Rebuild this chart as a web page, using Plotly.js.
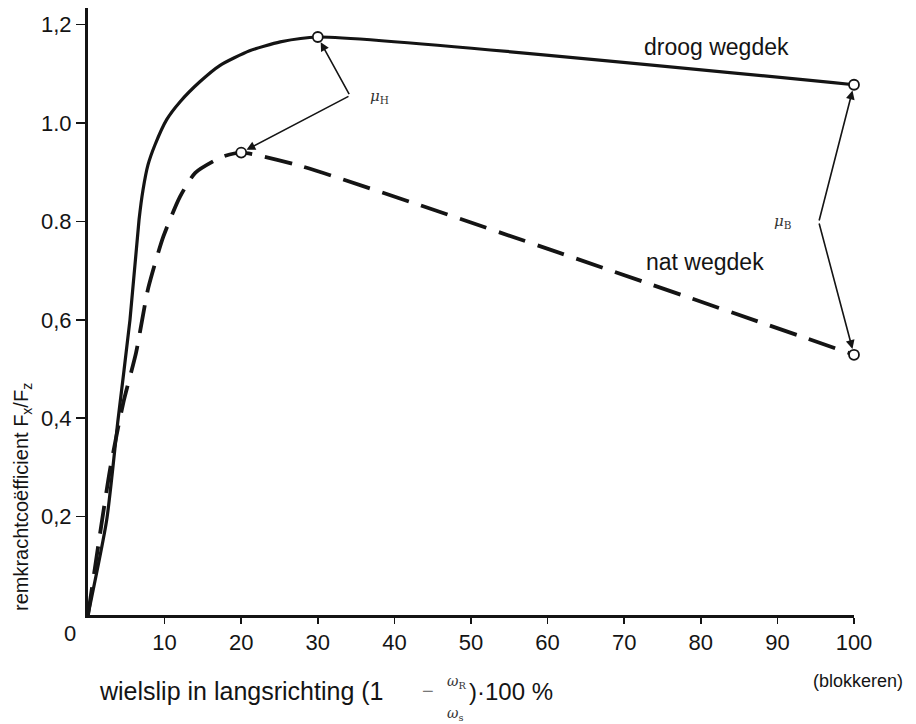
<!DOCTYPE html>
<html>
<head>
<meta charset="utf-8">
<script src="https://cdn.plot.ly/plotly-3.0.1.min.js"></script>
<style>
  html, body { margin: 0; padding: 0; background: #fff; }
  #chart { width: 916px; height: 724px; }
</style>
</head>
<body>
<div id="chart"></div>
<script>
// Wheel slip (%) against braking force coefficient, dry and wet road
const slipDry = [0, 2.44, 3.92, 5.48, 6.66, 7.18, 7.83, 8.75, 10.27, 12.0, 14.6, 17.2, 21.1, 25.1, 30, 100];
const muDry   = [0, 0.193, 0.397, 0.60, 0.803, 0.864, 0.915, 0.956, 1.007, 1.043, 1.084, 1.117, 1.147, 1.165, 1.175, 1.078];
const ringDry = [0, 0, 0, 0, 0, 0, 0, 0, 0, 0, 0, 0, 0, 0, 1, 1];

const slipWet = [0, 2.87, 4.6, 6.27, 7.87, 9.83, 12.0, 14.0, 17.45, 20.0, 27.7, 100];
const muWet   = [0, 0.295, 0.431, 0.533, 0.665, 0.769, 0.85, 0.899, 0.931, 0.94, 0.913, 0.529];
const ringWet = [0, 0, 0, 0, 0, 0, 0, 0, 0, 1, 0, 1];

const xTickVals = [10, 20, 30, 40, 50, 60, 70, 80, 90, 100];
const xTickText = ['10', '20', '30', '40', '50', '60', '70', '80', '90', '100'];
const yTickVals = [0.2, 0.4, 0.6, 0.8, 1.0, 1.2];
const yTickText = ['0,2', '0,4', '0,6', '0.8', '1.0', '1,2'];

const curveLabels = ['droog wegdek', 'nat wegdek'];

const INK = '#141414';
const FONT = 'Liberation Sans, Arial, Helvetica, sans-serif';
const GREEK = 'DejaVu Serif, serif';

function ringSizes(flags) { return flags.map(f => f ? 10 : 0); }

const traces = [
  {
    x: slipDry, y: muDry, type: 'scatter', mode: 'lines+markers', cliponaxis: false,
    line: { color: INK, width: 3.2, shape: 'spline', smoothing: 0.6 },
    marker: { size: ringSizes(ringDry), color: '#ffffff', opacity: 1, line: { color: INK, width: 1.8 } },
    hoverinfo: 'skip', showlegend: false
  },
  {
    x: slipWet, y: muWet, type: 'scatter', mode: 'lines+markers', cliponaxis: false,
    line: { color: INK, width: 3.8, dash: '28px,13px', shape: 'spline', smoothing: 0.6 },
    marker: { size: ringSizes(ringWet), color: '#ffffff', opacity: 1, line: { color: INK, width: 1.8 } },
    hoverinfo: 'skip', showlegend: false
  }
];

// arrows from a shared vertex towards the marked points
function arrow(tx, ty, vx, vy) {
  return {
    x: tx, y: ty, xref: 'x', yref: 'y',
    ax: vx, ay: vy, axref: 'x', ayref: 'y',
    text: '', showarrow: true, arrowhead: 2, arrowsize: 1.1,
    arrowwidth: 1.6, arrowcolor: INK, standoff: 6
  };
}

// labels placed by pixel position (converted to paper coordinates below)
function pxLabel(px, py, text, size, opts) {
  return Object.assign({
    px: px, py: py, text: text, showarrow: false,
    xanchor: 'center', yanchor: 'middle',
    font: { family: FONT, size: size, color: INK }
  }, opts || {});
}

const annotations = [
  arrow(slipDry[14], muDry[14], 34.2, 1.056),
  arrow(slipWet[9], muWet[9], 34.2, 1.056),
  arrow(slipDry[15], muDry[15], 95.4, 0.799),
  arrow(slipWet[11], muWet[11], 95.4, 0.799),
  { x: 36.6, y: 1.054, xref: 'x', yref: 'y', xanchor: 'left', yanchor: 'middle',
    text: '<i>μ</i><sub>H</sub>', showarrow: false,
    font: { family: GREEK, size: 15, color: '#333' } },
  { x: 92.2, y: 0.80, xref: 'x', yref: 'y', xanchor: 'right', yanchor: 'middle',
    text: '<i>μ</i><sub>B</sub>', showarrow: false,
    font: { family: GREEK, size: 15, color: '#333' } },
  { x: 82.0, y: 1.155, xref: 'x', yref: 'y', xanchor: 'center', yanchor: 'middle',
    text: curveLabels[0], showarrow: false, font: { family: FONT, size: 23, color: INK } },
  { x: 80.5, y: 0.718, xref: 'x', yref: 'y', xanchor: 'center', yanchor: 'middle',
    text: curveLabels[1], showarrow: false, font: { family: FONT, size: 23, color: INK } },
  pxLabel(70, 633, '0', 22),
  pxLabel(22, 497, 'remkrachtcoëfficient F<sub>x</sub>/F<sub>z</sub>', 20, { textangle: -90 }),
  pxLabel(97, 691, 'wielslip in langsrichting (1', 25, { xanchor: 'left' }),
  pxLabel(428, 691, '−', 20, { font: { family: FONT, size: 20, color: '#777' } }),
  pxLabel(456, 682, '<i>ω</i><sub>R</sub>', 14, { font: { family: GREEK, size: 14, color: '#333' } }),
  pxLabel(455, 714, '<i>ω</i><sub>s</sub>', 14, { font: { family: GREEK, size: 14, color: '#333' } }),
  pxLabel(467, 691, ')·100 %', 24, { xanchor: 'left' }),
  pxLabel(858, 681, '(blokkeren)', 18)
];

const W = 916, H = 724;
const M = { l: 88, r: 62, t: 8, b: 109 };
const pw = W - M.l - M.r, ph = H - M.t - M.b;
annotations.forEach(a => {
  if (a.px !== undefined) {
    a.xref = 'paper'; a.yref = 'paper';
    a.x = (a.px - M.l) / pw;
    a.y = (H - M.b - a.py) / ph;
    delete a.px; delete a.py;
  }
});

const layout = {
  width: W, height: H,
  margin: M,
  paper_bgcolor: '#fff', plot_bgcolor: '#fff',
  showlegend: false,
  xaxis: {
    range: [0, 100], showgrid: false, zeroline: false,
    showline: true, linecolor: INK, linewidth: 3,
    ticks: 'outside', ticklen: 6, tickwidth: 1.5, tickcolor: INK,
    tickvals: xTickVals, ticktext: xTickText,
    tickfont: { family: FONT, size: 22, color: INK }
  },
  yaxis: {
    range: [0, 1.234], showgrid: false, zeroline: false,
    showline: true, linecolor: INK, linewidth: 3,
    ticks: 'outside', ticklen: 9, tickwidth: 1.5, tickcolor: INK,
    tickvals: yTickVals, ticktext: yTickText,
    tickfont: { family: FONT, size: 22, color: INK }
  },
  annotations: annotations
};

Plotly.newPlot('chart', traces, layout, { staticPlot: true, displayModeBar: false });
</script>
</body>
</html>
